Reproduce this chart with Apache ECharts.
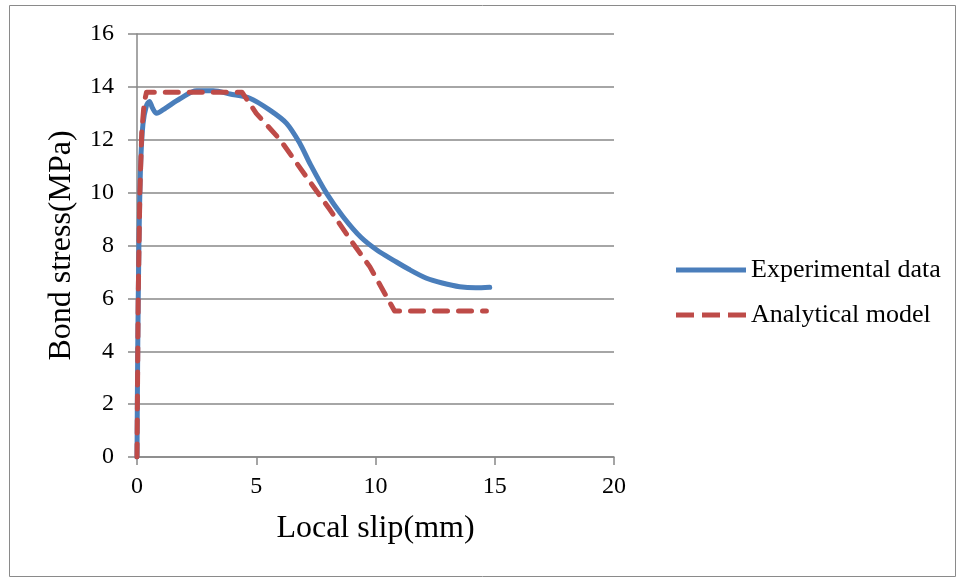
<!DOCTYPE html>
<html><head><meta charset="utf-8">
<script src="https://cdn.jsdelivr.net/npm/echarts@6/dist/echarts.min.js"></script>
<style>html,body{margin:0;padding:0;background:#fff}#c{width:965px;height:581px}</style>
</head><body><div id="c"></div>
<script>
const seriesNames = ['Experimental data', 'Analytical model'];
const expSlip = [0,0.03,0.08,0.15,0.25,0.4,0.52,0.65,0.82,1.2,1.8,2.5,3.2,3.9,4.73,5.57,6.27,6.83,7.25,7.95,8.64,9.4,10.1,10.74,11.4,12.14,12.8,13.53,14.2,14.79];
const expStress = [0,4,8,11,12.6,13.3,13.45,13.2,13.0,13.2,13.55,13.85,13.85,13.73,13.57,13.12,12.62,11.86,11.1,9.97,9.09,8.3,7.8,7.45,7.1,6.76,6.58,6.44,6.4,6.42];
const modSlip = [0,0.05,0.12,0.2,0.3,0.4,4.4,5.0,6.0,7.1,8.1,9.0,9.76,10.8,14.65];
const modStress = [0,6,10,12.3,13.4,13.8,13.8,13.0,12.0,10.6,9.34,8.15,7.2,5.52,5.52];
const xTicks = [0,5,10,15,20];
const yTicks = [0,2,4,6,8,10,12,14,16];

const chart = echarts.init(document.getElementById('c'));
const font = 'Liberation Serif';
chart.setOption({
  animation:false,
  backgroundColor:'#fff',
  grid:{left:137,top:34,right:351,bottom:124},
  graphic:[{type:'rect',shape:{x:9.5,y:5.5,width:946,height:571},style:{fill:'none',stroke:'#8a8a8a',lineWidth:1}}],
  legend:{
    orient:'vertical',left:671,top:252,itemWidth:70,itemHeight:5,itemGap:19,
    textStyle:{fontFamily:font,fontSize:26,lineHeight:25,color:'#000'},
    data:[
      {name:seriesNames[0],icon:'path://M0,0h70v5h-70z'},
      {name:seriesNames[1],icon:'path://M0,0h18v5h-18z M26,0h18v5h-18z M52,0h18v5h-18z'}
    ]
  },
  xAxis:{type:'value',min:xTicks[0],max:xTicks[xTicks.length-1],interval:5,
    name:'Local slip(mm)',nameLocation:'middle',nameGap:56,
    nameTextStyle:{fontFamily:font,fontSize:32,color:'#000'},
    axisLine:{show:true,lineStyle:{color:'#888',width:1.5}},
    axisTick:{show:true,inside:false,length:8,lineStyle:{color:'#888',width:1.5}},
    axisLabel:{fontFamily:font,fontSize:24,color:'#000',margin:18},
    splitLine:{show:false}},
  yAxis:{type:'value',min:yTicks[0],max:yTicks[yTicks.length-1],interval:2,
    name:'Bond stress(MPa)',nameLocation:'middle',nameGap:59,nameRotate:90,
    nameTextStyle:{fontFamily:font,fontSize:32,color:'#000'},
    axisLine:{show:true,lineStyle:{color:'#888',width:1.5}},
    axisTick:{show:true,inside:false,length:9,lineStyle:{color:'#888',width:1.5}},
    axisLabel:{fontFamily:font,fontSize:24,color:'#000',margin:23},
    splitLine:{show:true,lineStyle:{color:'#888',width:1.5}}},
  series:[
    {name:seriesNames[0],type:'line',showSymbol:false,symbol:'none',smooth:0.3,
     color:'#4a7ebb',
     lineStyle:{color:'#4a7ebb',width:5,cap:'round',join:'round'},
     data:expSlip.map((x,i)=>[x,expStress[i]])},
    {name:seriesNames[1],type:'line',showSymbol:false,symbol:'none',smooth:false,
     color:'#be4b48',
     lineStyle:{color:'#be4b48',width:5,type:[13,11],cap:'round',join:'round'},
     data:modSlip.map((x,i)=>[x,modStress[i]])}
  ]
});
</script></body></html>
